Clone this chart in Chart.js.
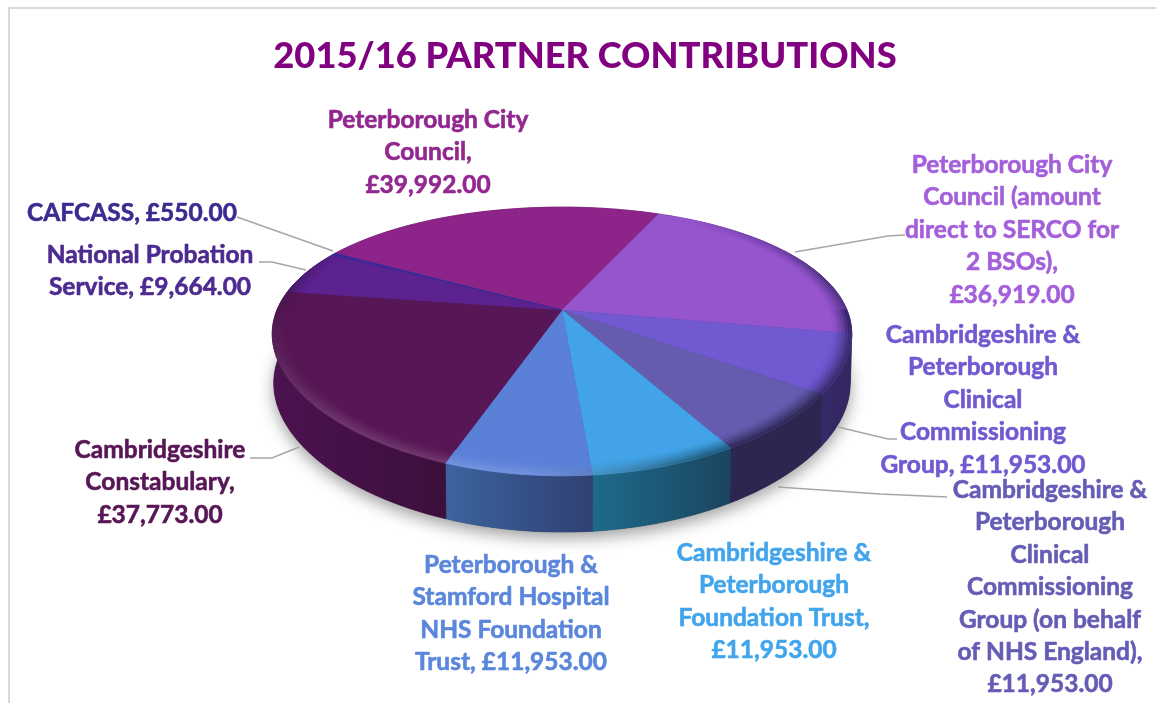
<!DOCTYPE html>
<html><head><meta charset="utf-8">
<style>html,body{margin:0;padding:0;background:#fff}canvas{display:block}</style>
<script src="https://cdn.jsdelivr.net/npm/chart.js@4"></script>
</head><body><canvas id="c" width="1156" height="703"></canvas>
<script>
const titleText = "2015/16 PARTNER CONTRIBUTIONS";
const categories = ["Peterborough City Council","Peterborough City Council (amount direct to SERCO for 2 BSOs)","Cambridgeshire & Peterborough Clinical Commissioning Group","Cambridgeshire & Peterborough Clinical Commissioning Group (on behalf of NHS England)","Cambridgeshire & Peterborough Foundation Trust","Peterborough & Stamford Hospital NHS Foundation Trust","Cambridgeshire Constabulary","National Probation Service","CAFCASS"];
const values = [39992,36919,11953,11953,11953,11953,37773,9664,550];
const faceColors = ["#8d2489","#9654cd","#7159d2","#655cb0","#42a3e8","#5a80d8","#571655","#5c228f","#3a2a9a"];
const labelColors = ["#92278f","#a45fdb","#7159d2","#655cb5","#42a5ec","#5a86dc","#571655","#4d2a8f","#3c2a90"];
const wallLeft = ["#5a1a5a","#2c2060","#362a68","#2c2650","#1f6a8a","#3c649f","#4c1251","#3c1460","#2a1e70"];
const wallRight = ["#5a1a5a","#2c2060","#332660","#2c2650","#1a4560","#2f4072","#3c0f3c","#3c1460","#2a1e70"];
const labelLines = [
 ["Peterborough City","Council,","£39,992.00"],
 ["Peterborough City","Council (amount","direct to SERCO for","2 BSOs),","£36,919.00"],
 ["Cambridgeshire &","Peterborough","Clinical","Commissioning","Group, £11,953.00"],
 ["Cambridgeshire &","Peterborough","Clinical","Commissioning","Group (on behalf","of NHS England),","£11,953.00"],
 ["Cambridgeshire &","Peterborough","Foundation Trust,","£11,953.00"],
 ["Peterborough &","Stamford Hospital","NHS Foundation","Trust, £11,953.00"],
 ["Cambridgeshire","Constabulary,","£37,773.00"],
 ["National Probation","Service, £9,664.00"],
 ["CAFCASS, £550.00"]
];
const labelCentreX = [428,1012,983,1050,774,511,160,150,132];
const labelFirstY = [120,165,335,490,553,565,450,255,213];
const labelStep = 32.4;
const leaders = [
 null,
 [[795,252],[888,236],[905,235]],
 [[838,427],[888,439],[897,439]],
 [[778,487],[880,494],[947,497]],
 null,null,
 [[250,458],[272,458],[299,447]],
 [[259,262],[272,262],[306,270]],
 [[237,217],[333,251]]
];
// perspective of the pie disc
const CX=562, CY=310, RX=285, RY=127, KX=0.18, KY=0.234, DEPTH=48, SHRINK=0.995;
function proj(a,r){const u=r*Math.cos(a),v=r*Math.sin(a);return [CX+RX*u/(1-KX*v),CY+RY*v/(1-KY*v)];}
function projLow(a){const u=Math.cos(a),v=Math.sin(a),w=1-KY*v;return [CX+SHRINK*RX*u/(1-KX*v),CY+RY*v/w+DEPTH/Math.pow(w,.6)];}
const STEP=Math.PI/240;
function hex(c){return [1,3,5].map(i=>parseInt(c.substr(i,2),16));}
function mix(a,b,t){return a.map((x,i)=>x+(b[i]-x)*t);}
function rgb(c){return `rgb(${c.map(x=>Math.round(x)).join(",")})`;}
function angles(s,e){const o=[];for(let a=s;a<e;a+=STEP)o.push(a);o.push(e);return o;}
function clamp(x){return Math.max(0,Math.min(1,x));}

// the pie's wedges are drawn by the library element, through the perspective
Chart.ArcElement.prototype.draw=function(ctx){
  const {startAngle:s,endAngle:e}=this.getProps(["startAngle","endAngle"]);
  ctx.save();ctx.beginPath();ctx.moveTo(CX,CY);
  angles(s,e).forEach(a=>{const p=proj(a,1);ctx.lineTo(p[0],p[1]);});
  ctx.closePath();ctx.fillStyle=this.options.backgroundColor;ctx.fill();
  ctx.strokeStyle=this.options.backgroundColor;ctx.lineWidth=0.5;ctx.stroke();ctx.restore();
};
const pie3d={id:"pie3d",
 beforeDraw(chart){const c=chart.ctx;c.save();c.fillStyle="#d9d9d9";c.fillRect(8,7,1148,2);c.fillRect(8,7,2,696);c.restore();},
 beforeDatasetsDraw(chart){
  const c=chart.ctx,arcs=chart.getDatasetMeta(0).data;
  c.save();c.shadowColor="rgba(0,0,0,.38)";c.shadowBlur=16;c.shadowOffsetY=6;c.fillStyle="#333";c.beginPath();
  angles(0,2*Math.PI).forEach(a=>{const p=projLow(a);c.lineTo(p[0],p[1]);});c.closePath();c.fill();c.restore();
  arcs.forEach((arc,i)=>{
    const pts=angles(arc.startAngle,arc.endAngle);
    const top=pts.map(a=>proj(a,1)),low=pts.map(projLow);
    const xs=top.map(p=>p[0]);const x0=Math.min(...xs),x1=Math.max(...xs)+.01;
    const g=c.createLinearGradient(x0,0,x1,0);g.addColorStop(0,wallLeft[i]);g.addColorStop(1,wallRight[i]);
    c.beginPath();top.forEach(p=>c.lineTo(p[0],p[1]));low.reverse().forEach(p=>c.lineTo(p[0],p[1]));c.closePath();
    c.fillStyle=g;c.fill();c.strokeStyle=g;c.lineWidth=.6;c.stroke();
  });
 },
 afterDatasetsDraw(chart){
  const c=chart.ctx,arcs=chart.getDatasetMeta(0).data;
  const R0=0.935,N=6;
  c.save();
  arcs.forEach((arc,i)=>{
    const face=hex(faceColors[i]),dark=mix(hex(wallLeft[i]),hex(wallRight[i]),.5),lite=mix(face,[255,255,255],.16);
    const pts=angles(arc.startAngle,arc.endAngle);
    for(let k=0;k<pts.length-1;k++){
      let a=pts[k],b=pts[k+1],m=(a+b)/2,deg=((m*180/Math.PI)%360+360)%360;
      let light=clamp((deg-65)/30);
      if(deg>135)light*=Math.max(.15,(190-deg)/55);
      let strength=1;
      if(deg>190&&deg<=215)strength=(215-deg)/25;
      if(deg>215&&deg<300)continue;
      if(deg>=300)strength=clamp((deg-300)/45)*.9;
      if(strength<=0)continue;
      for(let n=0;n<N;n++){
        const r0=R0+(1-R0)*n/N,r1=R0+(1-R0)*(n+1)/N,t=(n+.5)/N;
        const target=mix(dark,lite,light);
        const col=mix(face,target,Math.pow(t,1.4)*strength);
        const p=[proj(a,r0),proj(b,r0),proj(b,r1),proj(a,r1)];
        c.beginPath();p.forEach(q=>c.lineTo(q[0],q[1]));c.closePath();
        c.fillStyle=rgb(col);c.strokeStyle=c.fillStyle;c.lineWidth=.5;c.fill();c.stroke();
      }
    }
  });
  c.restore();
 },
 afterDraw(chart){
  const c=chart.ctx;c.save();
  c.strokeStyle="#a6a6a6";c.lineWidth=1.5;
  leaders.forEach(l=>{if(!l)return;c.beginPath();l.forEach(p=>c.lineTo(p[0],p[1]));c.stroke();});
  c.font="bold 24.5px Lato";c.textAlign="center";c.textBaseline="middle";c.lineWidth=.6;c.lineJoin="round";
  labelLines.forEach((ls,i)=>{c.fillStyle=labelColors[i];c.strokeStyle=labelColors[i];
    ls.forEach((t,j)=>{const y=labelFirstY[i]+j*labelStep;c.strokeText(t,labelCentreX[i],y);c.fillText(t,labelCentreX[i],y);});});
  c.restore();
 }
};
new Chart(document.getElementById("c"),{
 type:"pie",
 data:{labels:categories,datasets:[{data:values,backgroundColor:faceColors,borderWidth:0}]},
 options:{responsive:false,animation:false,rotation:-60.1,
  layout:{padding:{left:14}},
  plugins:{legend:{display:false},tooltip:{enabled:false},
   title:{display:true,text:titleText,color:"#800080",font:{family:"Lato",size:36.3,weight:"900"},padding:{top:35,bottom:10}}}},
 plugins:[pie3d]
});
</script></body></html>
